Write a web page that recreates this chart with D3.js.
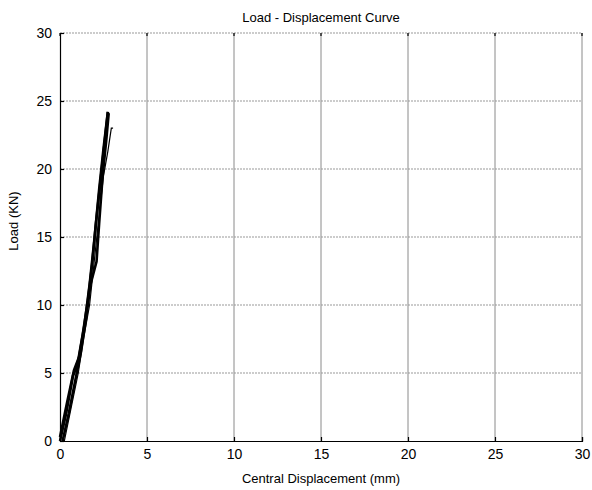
<!DOCTYPE html>
<html>
<head>
<meta charset="utf-8">
<script src="https://cdn.jsdelivr.net/npm/d3@7"></script>
<style>
  body { margin: 0; background: #fff; }
  text { font-family: "Liberation Sans", Arial, sans-serif; fill: #000; }
</style>
</head>
<body>
<div class="chart"></div>
<script>
// data: [displacement mm, load kN]
var specimenA = [[0,0],[0.35,2],[0.75,4.8],[1.0,5.6],[1.3,7.8],[1.6,10.3],[1.85,13],[2.05,15.8],[2.3,18.8],[2.55,21.8],[2.75,24.2]];
var specimenB = [[0.15,0],[0.5,2],[0.9,4.6],[1.2,6.5],[1.5,9],[1.75,11.5],[2.1,13.2],[2.25,16],[2.45,19.5],[2.65,22],[2.8,24.1]];
var specimenC = [[0.25,0],[0.65,2.5],[1.05,5],[1.35,7.5],[1.7,10],[1.95,13],[2.2,16],[2.5,19.5],[2.75,21.3],[2.95,23],[3.05,23]];
var specimenD = [[0,0.3],[0.4,2.8],[0.8,5.2],[1.1,6.2],[1.4,8.5],[1.7,11.5],[1.95,14.5],[2.25,18.5],[2.5,21.5],[2.75,24.2]];
var xTicks = [0, 5, 10, 15, 20, 25, 30];
var yTicks = [0, 5, 10, 15, 20, 25, 30];

var svgWidth = 592;
var svgHeight = 490;
var margin = { top: 33, right: 10, bottom: 49, left: 60 };
var width = 582 - margin.left;
var height = 441 - margin.top;

var svg = d3.select(".chart")
  .append("svg")
  .attr("width", svgWidth)
  .attr("height", svgHeight);

var chartGroup = svg.append("g")
  .attr("transform", `translate(${margin.left}, ${margin.top})`);

var x = d3.scaleLinear().domain([0, 30]).range([0, width]);
var y = d3.scaleLinear().domain([0, 30]).range([height, 0]);

// grid
chartGroup.selectAll(".vgrid")
  .data(xTicks.slice(1))
  .enter()
  .append("line")
  .attr("x1", d => x(d)).attr("x2", d => x(d))
  .attr("y1", 0).attr("y2", height)
  .attr("stroke", "#8a8a8a")
  .attr("stroke-width", 1);

chartGroup.selectAll(".hgrid")
  .data(yTicks.slice(1))
  .enter()
  .append("line")
  .attr("x1", 0).attr("x2", width)
  .attr("y1", d => y(d)).attr("y2", d => y(d))
  .attr("stroke", "#999")
  .attr("stroke-width", 1)
  .attr("stroke-dasharray", "2,1");

// axes
var bottomAxis = d3.axisBottom(x).tickValues(xTicks).tickSize(-4).tickPadding(8);
var leftAxis = d3.axisLeft(y).tickValues(yTicks).tickSize(-4).tickPadding(8);

var xAxis = chartGroup.append("g")
  .attr("transform", `translate(0, ${height})`)
  .call(bottomAxis);
var yAxis = chartGroup.append("g").call(leftAxis);

[xAxis, yAxis].forEach(function(a) {
  a.select(".domain").attr("stroke", "#000").attr("stroke-width", 1.2);
  a.selectAll(".tick line").attr("stroke", "#000").attr("stroke-width", 1.2);
  a.selectAll("text").attr("font-size", 14).attr("font-family", "Liberation Sans, Arial, sans-serif");
});

// small ticks along top edge
chartGroup.selectAll(".ttick")
  .data(xTicks)
  .enter()
  .append("line")
  .attr("x1", d => x(d)).attr("x2", d => x(d))
  .attr("y1", 0).attr("y2", 3)
  .attr("stroke", "#000")
  .attr("stroke-width", 1.2);

// curves
var line = d3.line().x(d => x(d[0])).y(d => y(d[1]));
var curves = [
  { data: specimenA, w: 2.6 },
  { data: specimenB, w: 2.6 },
  { data: specimenC, w: 1.2 },
  { data: specimenD, w: 2.6 }
];
chartGroup.selectAll(".curve")
  .data(curves)
  .enter()
  .append("path")
  .attr("d", d => line(d.data))
  .attr("fill", "none")
  .attr("stroke", "#000")
  .attr("stroke-width", d => d.w);

// labels
svg.append("text")
  .attr("x", 321).attr("y", 22)
  .attr("text-anchor", "middle")
  .attr("font-size", 13)
  .text("Load - Displacement Curve");

svg.append("text")
  .attr("x", 321).attr("y", 483)
  .attr("text-anchor", "middle")
  .attr("font-size", 13)
  .text("Central Displacement (mm)");

svg.append("text")
  .attr("transform", "translate(18, 221) rotate(-90)")
  .attr("text-anchor", "middle")
  .attr("font-size", 13)
  .text("Load (KN)");
</script>
</body>
</html>
